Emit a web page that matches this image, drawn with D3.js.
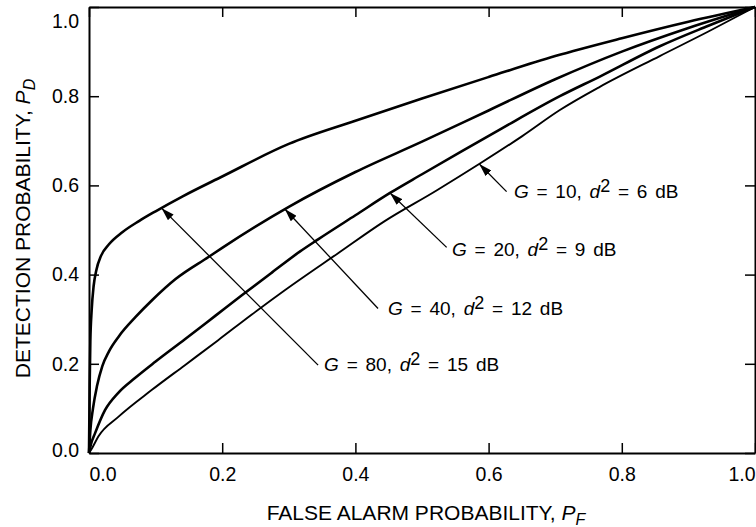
<!DOCTYPE html>
<html><head><meta charset="utf-8">
<script src="https://cdn.jsdelivr.net/npm/d3@7"></script>
<style>
body{margin:0;background:#fff}
svg{display:block}
text{font-family:"Liberation Sans",Arial,Helvetica,sans-serif;fill:#000;white-space:pre}
</style></head><body>
<svg id="c" width="756" height="527"></svg>
<script>
// ---- data ----
const tickValues = [0, 0.2, 0.4, 0.6, 0.8, 1.0];
const tickLabels = ["0.0", "0.2", "0.4", "0.6", "0.8", "1.0"];

const seriesG   = [80, 40, 20, 10];
const seriesDdB = [15, 12, 9, 6];

// [P_F, P_D]
const curveG80 = [[0,0],[0.001,0.15],[0.002,0.25],[0.004,0.32],[0.007,0.375],[0.011,0.41],[0.018,0.442],[0.03,0.468],[0.05,0.495],[0.075,0.52],[0.1,0.542],[0.14,0.575],[0.2,0.62],[0.3,0.693],[0.4,0.745],[0.5,0.795],[0.6,0.843],[0.7,0.89],[0.8,0.93],[0.9,0.967],[1,1]];
const curveG40 = [[0,0],[0.002,0.05],[0.006,0.1],[0.012,0.15],[0.02,0.195],[0.03,0.228],[0.045,0.262],[0.07,0.305],[0.095,0.343],[0.13,0.39],[0.18,0.44],[0.2,0.46],[0.3,0.552],[0.4,0.63],[0.5,0.698],[0.6,0.768],[0.7,0.838],[0.8,0.9],[0.9,0.953],[1,1]];
const curveG20 = [[0,0],[0.003,0.02],[0.009,0.044],[0.024,0.096],[0.044,0.135],[0.069,0.168],[0.1,0.205],[0.144,0.255],[0.19,0.308],[0.229,0.353],[0.275,0.405],[0.317,0.452],[0.344,0.479],[0.4,0.533],[0.452,0.583],[0.5,0.625],[0.56,0.677],[0.62,0.728],[0.707,0.8],[0.767,0.844],[0.857,0.912],[0.93,0.958],[1,1]];
const curveG10 = [[0,0],[0.005,0.012],[0.014,0.037],[0.044,0.081],[0.094,0.141],[0.144,0.197],[0.194,0.253],[0.244,0.31],[0.294,0.365],[0.374,0.448],[0.444,0.52],[0.52,0.587],[0.587,0.649],[0.65,0.71],[0.707,0.769],[0.767,0.821],[0.857,0.89],[0.93,0.945],[1,1]];
const curves = [curveG80, curveG40, curveG20, curveG10];

// ---- layout ----
const svg = d3.select("#c");
const x = d3.scaleLinear().domain([0, 1]).range([89, 755]);
const y = d3.scaleLinear().domain([0, 1]).range([453, 7]);
const tickLen = 10;
const fmt = d => tickLabels[tickValues.indexOf(d)];

// annotation geometry in data units: tip on curve, tail of leader, text anchor
const annot = [
  {tip:[0.109,0.549], tail:[0.344,0.197], txt:[0.353,0.184]},
  {tip:[0.294,0.547], tail:[0.434,0.324], txt:[0.449,0.309]},
  {tip:[0.452,0.583], tail:[0.537,0.461], txt:[0.545,0.442]},
  {tip:[0.586,0.648], tail:[0.627,0.586], txt:[0.638,0.571]}
];
const curveWidths = [2.6, 2.6, 2.6, 1.9];

// axes
const gB = svg.append("g").attr("transform", `translate(0,${y(0)})`)
  .call(d3.axisBottom(x).tickValues(tickValues).tickFormat(fmt).tickSize(-tickLen).tickSizeOuter(0).tickPadding(14));
const gL = svg.append("g").attr("transform", `translate(${x(0)},0)`)
  .call(d3.axisLeft(y).tickValues(tickValues).tickFormat(fmt).tickSize(-tickLen).tickSizeOuter(0).tickPadding(10));
const gT = svg.append("g").attr("transform", `translate(0,${y(1)})`)
  .call(d3.axisTop(x).tickValues(tickValues).tickFormat("").tickSize(-tickLen).tickSizeOuter(0));
const gR = svg.append("g").attr("transform", `translate(${x(1)},0)`)
  .call(d3.axisRight(y).tickValues(tickValues).tickFormat("").tickSize(-tickLen).tickSizeOuter(0));

[gB, gL, gT, gR].forEach(g => {
  g.selectAll(".domain").attr("stroke", "#000").attr("stroke-width", 2);
  g.selectAll(".tick line").attr("stroke", "#000").attr("stroke-width", 1.5);
  g.selectAll("text").attr("font-family", null).style("font-size", "19.5px").attr("fill", "#000");
});
// keep end labels inside the figure, as in the reference
gB.selectAll(".tick text").filter(d => d === 0).attr("text-anchor", "start").attr("x", 0);
gB.selectAll(".tick text").filter(d => d === 1).attr("text-anchor", "end").attr("x", 0);
gL.selectAll(".tick text").filter(d => d === 1).attr("dy", "1.05em");
gL.selectAll(".tick text").filter(d => d === 0).attr("dy", "0.2em");

// curves
const line = d3.line().x(d => x(d[0])).y(d => y(d[1])).curve(d3.curveMonotoneX);
svg.append("g").selectAll("path").data(curves).join("path")
  .attr("d", line).attr("fill", "none").attr("stroke", "#000")
  .attr("stroke-width", (d, i) => curveWidths[i]).attr("stroke-linejoin", "round");

// arrow marker
svg.append("defs").append("marker").attr("id", "ah")
  .attr("viewBox", "0 0 13 8").attr("refX", 13).attr("refY", 4)
  .attr("markerWidth", 13).attr("markerHeight", 8).attr("markerUnits", "userSpaceOnUse")
  .attr("orient", "auto")
  .append("path").attr("d", "M0,0 L13,4 L0,8 Z").attr("fill", "#000");

const ga = svg.append("g");
annot.forEach((a, i) => {
  ga.append("line")
    .attr("x1", x(a.tail[0])).attr("y1", y(a.tail[1]))
    .attr("x2", x(a.tip[0])).attr("y2", y(a.tip[1]))
    .attr("stroke", "#000").attr("stroke-width", 1.3).attr("marker-end", "url(#ah)");
  const t = ga.append("text").attr("x", x(a.txt[0])).attr("y", y(a.txt[1]))
    .style("font-size", "19px").style("word-spacing", "2.5px");
  t.append("tspan").style("font-style", "italic").text("G");
  t.append("tspan").text(" = " + seriesG[i] + ", ");
  t.append("tspan").style("font-style", "italic").text("d");
  t.append("tspan").attr("dy", -6).style("font-size", "18px").text("2");
  t.append("tspan").attr("dy", 6).text(" = " + seriesDdB[i] + " dB");
});

// axis titles
const xt = svg.append("text").attr("x", 426).attr("y", 520).attr("text-anchor", "middle").style("font-size", "21px");
xt.append("tspan").text("FALSE ALARM PROBABILITY, ");
xt.append("tspan").style("font-style", "italic").text("P");
xt.append("tspan").attr("dy", 5).style("font-size", "16px").style("font-style", "italic").text("F");

const yt = svg.append("text").attr("transform", "translate(29.5,228.5) rotate(-90)").attr("text-anchor", "middle").style("font-size", "21px");
yt.append("tspan").text("DETECTION PROBABILITY, ");
yt.append("tspan").style("font-style", "italic").text("P");
yt.append("tspan").attr("dy", 5).style("font-size", "16px").style("font-style", "italic").text("D");
</script>
</body></html>
